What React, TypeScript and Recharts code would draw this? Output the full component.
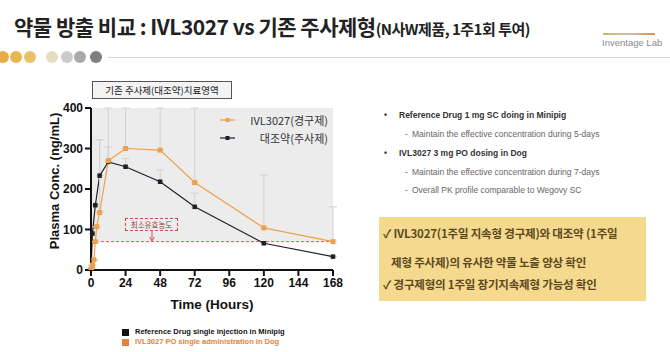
import React from "react";
import { LineChart, Line, XAxis, YAxis, ReferenceArea, ReferenceLine, ErrorBar } from "recharts";

// IVL3027 PO (dog)
const ivlHours = [0, 0.5, 1, 2, 3, 4, 6, 12, 24, 48, 72, 120, 168];
const ivlConc = [0, 5, 12, 25, 70, 107, 142, 270, 300, 296, 216, 104, 70];
const ivlErrUp = [0, 0, 0, 0, 0, 0, 180, 130, 100, 104, 184, 130, 86];

// Reference drug SC (minipig)
const refHours = [0, 1, 3, 6, 12, 24, 48, 72, 120, 168];
const refConc = [0, 90, 160, 233, 267, 255, 218, 156, 66, 33];
const refErrUp = [0, 0, 0, 88, 37, 20, 29, 34, 0, 0];

const xTicks = [0, 24, 48, 72, 96, 120, 144, 168];
const yTicks = [0, 100, 200, 300, 400];
const minEffective = 70;

const ORANGE = "#eea04a";
const BLACK = "#1e1e28";
const SANS = "'Liberation Sans', Arial, sans-serif";
const KR = "'Noto Sans CJK KR', 'Noto Sans', sans-serif";

const ivlData = ivlHours.map((h, i) => ({ h, c: ivlConc[i], e: [0, ivlErrUp[i]] }));
const refData = refHours.map((h, i) => ({ h, c: refConc[i], e: [0, refErrUp[i]] }));

const squareDot = (color: string, size: number, prefix: string) => (p: any) => (
  <rect key={`${prefix}-${p.index}`} x={p.cx - size / 2} y={p.cy - size / 2} width={size} height={size} fill={color} />
);

const headerDots = ["#e8ad45", "#e9b552", "#ebc06a", "#e6dcc2", "#cbcbcb", "#a9a9a9", "#7e7e7e"];
const dotX = [3, 16, 30, 52, 67, 80, 96];

export default function App() {
  const abs = (s: React.CSSProperties): React.CSSProperties => ({ position: "absolute", ...s });
  return (
    <div style={{ position: "fixed", left: 0, top: 0, width: 670, height: 352, background: "#fff", overflow: "hidden" }}>
      {/* header */}
      <div style={abs({ left: 14, top: 11, whiteSpace: "nowrap", fontFamily: `'Liberation Sans Narrow', ${KR}`, fontWeight: 700, color: "#222", letterSpacing: "-0.5px" })}>
        <span style={{ fontSize: 21 }}>약물 방출 비교 : IVL3027 vs 기존 주사제형</span>
        <span style={{ fontSize: 15 }}>(N사W제품, 1주1회 투여)</span>
      </div>
      <div style={abs({ left: 603, top: 33, width: 52, height: 2, background: "linear-gradient(90deg,#d9b070,#c9c0b0,#e09050)" })} />
      <div style={abs({ left: 602, top: 37, fontFamily: SANS, fontSize: 9.5, color: "#8a8a8a", whiteSpace: "nowrap" })}>Inventage Lab</div>
      {headerDots.map((c, i) => (
        <div key={i} style={abs({ left: dotX[i] - 6, top: 51, width: 12, height: 12, borderRadius: 6, background: c })} />
      ))}
      <div style={abs({ left: 108, top: 57, width: 562, height: 1, background: "#d8d8d8" })} />

      {/* chart */}
      <div style={abs({ left: 0, top: 0 })}>
        <LineChart width={345} height={320} margin={{ top: 108, right: 12, bottom: 20, left: 51 }}>
          <ReferenceArea x1={0} x2={168} y1={minEffective} y2={400} fill="#ececec" fillOpacity={1} stroke="none" />
          <ReferenceLine y={minEffective} stroke="#e05a5a" strokeDasharray="3 2" strokeWidth={1} />
          <XAxis
            type="number"
            dataKey="h"
            domain={[0, 168]}
            ticks={xTicks}
            allowDuplicatedCategory={false}
            height={30}
            tickSize={6}
            axisLine={{ stroke: "#111", strokeWidth: 2 }}
            tickLine={{ stroke: "#111", strokeWidth: 2 }}
            tick={{ fill: "#111", fontSize: 12, fontWeight: 700, fontFamily: SANS }}
          />
          <YAxis
            type="number"
            domain={[0, 400]}
            ticks={yTicks}
            width={40}
            tickSize={6}
            allowDataOverflow
            axisLine={{ stroke: "#111", strokeWidth: 2 }}
            tickLine={{ stroke: "#111", strokeWidth: 2 }}
            tick={{ fill: "#111", fontSize: 12, fontWeight: 700, fontFamily: SANS }}
          />
          <Line data={refData} dataKey="c" stroke={BLACK} strokeWidth={1.2} isAnimationActive={false} dot={squareDot(BLACK, 4.5, "r")} activeDot={false}>
            <ErrorBar dataKey="e" direction="y" width={4} stroke="#d2d2d2" strokeWidth={1} />
          </Line>
          <Line data={ivlData} dataKey="c" stroke={ORANGE} strokeWidth={1.2} isAnimationActive={false} dot={squareDot(ORANGE, 5, "o")} activeDot={false}>
            <ErrorBar dataKey="e" direction="y" width={4} stroke="#d2d2d2" strokeWidth={1} />
          </Line>
        </LineChart>
      </div>

      {/* treatment zone box */}
      <div style={abs({ left: 92, top: 81, width: 138, height: 16, border: "1px solid #555", background: "#f3f3f3", fontFamily: KR, fontSize: 9.5, lineHeight: "16px", textAlign: "center", color: "#222" })}>
        기존 주사제(대조약)치료영역
      </div>

      {/* in-plot legend */}
      <svg style={abs({ left: 218, top: 114 })} width={20} height={30}>
        <line x1={2} y1={6} x2={17} y2={6} stroke={ORANGE} strokeWidth={1.2} />
        <rect x={7.5} y={4} width={4} height={4} fill={ORANGE} />
        <line x1={2} y1={24} x2={17} y2={24} stroke={BLACK} strokeWidth={1.2} />
        <rect x={7.5} y={22} width={4} height={4} fill={BLACK} />
      </svg>
      <div style={abs({ right: 342, top: 112, fontFamily: KR, fontSize: 11, lineHeight: "16px", color: "#333", whiteSpace: "nowrap" })}>IVL3027(경구제)</div>
      <div style={abs({ right: 342, top: 130, fontFamily: KR, fontSize: 11, lineHeight: "16px", color: "#333", whiteSpace: "nowrap" })}>대조약(주사제)</div>

      {/* minimum effective concentration */}
      <div style={abs({ left: 125, top: 218, width: 51, height: 11, border: "1px dashed #c45050", fontFamily: KR, fontSize: 7.5, lineHeight: "11px", textAlign: "center", color: "#a03838", background: "#ececec" })}>
        최소유효농도
      </div>
      <svg style={abs({ left: 148, top: 231 })} width={8} height={11}>
        <line x1={4} y1={0} x2={4} y2={9} stroke="#d05050" strokeWidth={1} />
        <path d="M1.5 6 L4 10 L6.5 6" fill="none" stroke="#d05050" strokeWidth={1} />
      </svg>

      {/* axis titles */}
      <div style={abs({ left: -45, top: 173, width: 200, height: 16, transform: "rotate(-90deg)", textAlign: "center", fontFamily: SANS, fontWeight: 700, fontSize: 13, color: "#111", lineHeight: "16px" })}>
        Plasma Conc. (ng/mL)
      </div>
      <div style={abs({ left: 152, top: 297, width: 120, textAlign: "center", fontFamily: SANS, fontWeight: 700, fontSize: 13.5, color: "#111" })}>
        Time (Hours)
      </div>

      {/* bottom legend */}
      <div style={abs({ left: 122, top: 329, width: 7, height: 7, background: "#111" })} />
      <div style={abs({ left: 135, top: 327, fontFamily: `'Liberation Sans Narrow', ${SANS}`, fontWeight: 700, fontSize: 7.5, lineHeight: "10px", color: "#111", whiteSpace: "nowrap" })}>
        Reference Drug single injection in Minipig
      </div>
      <div style={abs({ left: 122, top: 339, width: 7, height: 7, background: "#e0823a" })} />
      <div style={abs({ left: 135, top: 337, fontFamily: `'Liberation Sans Narrow', ${SANS}`, fontWeight: 700, fontSize: 7.5, lineHeight: "10px", color: "#e0823a", whiteSpace: "nowrap" })}>
        IVL3027 PO single administration in Dog
      </div>

      {/* bullet notes */}
      {[
        { t: "•", x: 384, y: 115, b: true, s: "Reference Drug 1 mg SC doing in Minipig" },
        { t: "-", x: 405, y: 134, b: false, s: "Maintain the effective concentration during 5-days" },
        { t: "•", x: 384, y: 153, b: true, s: "IVL3027 3 mg PO dosing in Dog" },
        { t: "-", x: 405, y: 172, b: false, s: "Maintain the effective concentration during 7-days" },
        { t: "-", x: 405, y: 190, b: false, s: "Overall PK profile comparable to Wegovy SC" },
      ].map((r, i) => (
        <div key={i} style={abs({ left: r.x, top: r.y - 6, fontFamily: SANS, fontSize: 8.5, lineHeight: "12px", whiteSpace: "nowrap", color: r.b ? "#333" : "#666", fontWeight: r.b ? 700 : 400 })}>
          <span style={{ display: "inline-block", width: r.b ? 15 : 7 }}>{r.t}</span>
          {r.s}
        </div>
      ))}

      {/* conclusion box */}
      <div style={abs({ left: 379, top: 217, width: 267, height: 84, background: "#f4d98f" })} />
      {[
        { y: 233, s: "✓ IVL3027(1주일 지속형 경구제)와 대조약 (1주일", x: 383 },
        { y: 262, s: "제형 주사제)의 유사한 약물 노출 양상 확인", x: 391 },
        { y: 284, s: "✓ 경구제형의 1주일 장기지속제형 가능성 확인", x: 383 },
      ].map((r, i) => (
        <div key={i} style={abs({ left: r.x, top: r.y - 9, fontFamily: KR, fontWeight: 700, fontSize: 11.5, lineHeight: "18px", color: "#5c4a1e", whiteSpace: "nowrap", letterSpacing: "-0.2px" })}>
          {r.s}
        </div>
      ))}
    </div>
  );
}
